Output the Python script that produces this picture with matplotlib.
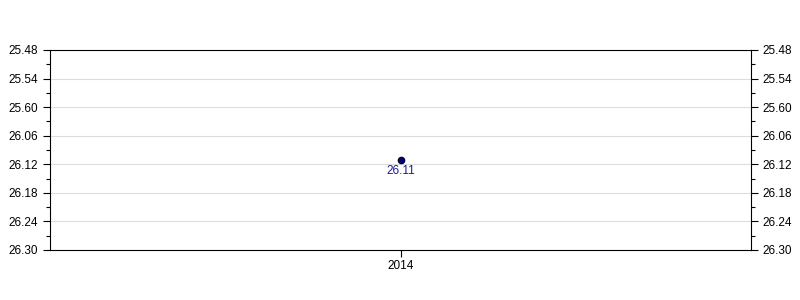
import matplotlib
matplotlib.use("Agg")
import matplotlib.pyplot as plt
from matplotlib.ticker import FixedLocator, MultipleLocator

plt.rcParams['font.family'] = ['Liberation Sans', 'DejaVu Sans']

categories = ["2014"]
values_sec = [1571]          # 26:11 as seconds
value_labels = ["26.11"]
tick_secs = [1548, 1554, 1560, 1566, 1572, 1578, 1584, 1590]
tick_labels = ["25.48", "25.54", "25.60", "26.06", "26.12", "26.18", "26.24", "26.30"]

fig = plt.figure(figsize=(8, 3), dpi=100)
ax = fig.add_axes([50/800, 50/300, 701/800, 200/300])

x = list(range(len(categories)))
ax.plot(x, values_sec, linestyle='none', marker='o', markersize=4.5,
        markerfacecolor='#000080', markeredgecolor='#000033', zorder=3)
for xi, v, lab in zip(x, values_sec, value_labels):
    ax.annotate(lab, (xi, v), xytext=(0, -8), textcoords='offset points',
                ha='center', va='center', color='#1a1aa0', fontsize=8.5)

ax.set_xlim(-1, 1)
ax.set_xticks(x)
ax.set_xticklabels(categories)
ax.set_ylim(tick_secs[-1], tick_secs[0])
ax.yaxis.set_major_locator(FixedLocator(tick_secs))
ax.set_yticklabels(tick_labels)
ax.yaxis.set_minor_locator(MultipleLocator(3))
ax.yaxis.grid(True, color='#dddddd', linewidth=0.8)
ax.set_axisbelow(True)

ax.tick_params(axis='y', which='major', length=5, width=0.8, labelsize=8.5,
               left=True, right=True, labelleft=True, labelright=True, direction='out')
ax.tick_params(axis='y', which='minor', length=3, width=0.8, left=True, right=True)
ax.tick_params(axis='x', which='major', length=5, width=0.8, labelsize=8.5,
               direction='out', pad=2)
for s in ax.spines.values():
    s.set_linewidth(0.8)

fig.savefig("out.png", dpi=100)
